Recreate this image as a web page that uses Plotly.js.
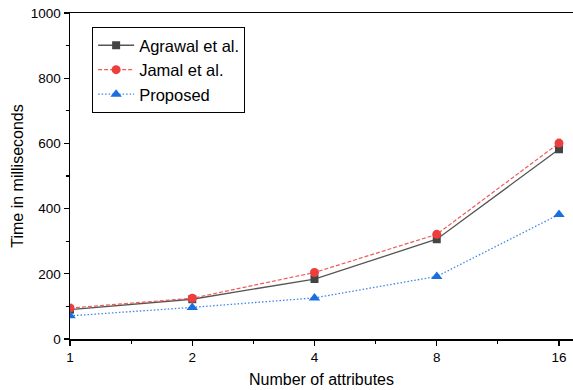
<!DOCTYPE html>
<html>
<head>
<meta charset="utf-8">
<script src="https://cdn.plot.ly/plotly-3.0.1.min.js"></script>
<style>html,body{margin:0;padding:0;background:#fff;}#chart{width:573px;height:390px;}</style>
</head>
<body>
<div id="chart"></div>
<script>
const attributes = [1, 2, 4, 8, 16];
const agrawal = [90, 122, 184, 306, 582];
const jamal = [95, 125, 204, 321, 601];
const proposed = [71, 97, 126, 192, 382];
const xTickLabels = ['1', '2', '4', '8', '16'];
const xMinorTicks = [1.4142, 2.8284, 5.6569, 11.3137];

const traces = [
  {x: attributes, y: agrawal, name: 'Agrawal et al.', mode: 'lines+markers', type: 'scatter',
   line: {color: '#555555', width: 1.3, dash: 'solid'},
   marker: {symbol: 'square', size: 8, color: '#444444'}},
  {x: attributes, y: jamal, name: 'Jamal et al.', mode: 'lines+markers', type: 'scatter',
   line: {color: '#f05a5a', width: 1.2, dash: '4px,2px'},
   marker: {symbol: 'circle', size: 9, color: '#ee3d3d'}},
  {x: attributes, y: proposed, name: 'Proposed', mode: 'lines+markers', type: 'scatter',
   line: {color: '#3d86ea', width: 1.3, dash: '1.5px,2px'},
   marker: {symbol: 'triangle-up', size: 10, color: '#1a6fe0'}}
];

const layout = {
  width: 573, height: 390,
  margin: {l: 70, r: 0, t: 13, b: 51},
  paper_bgcolor: '#fff', plot_bgcolor: '#fff',
  font: {family: 'Liberation Sans, Arial, sans-serif', color: '#000'},
  showlegend: true,
  legend: {x: 0.044, y: 0.957, xanchor: 'left', yanchor: 'top',
    bordercolor: '#000', borderwidth: 1, bgcolor: '#fff',
    font: {size: 16.5, family: 'Liberation Sans, Arial, sans-serif'},
    tracegroupgap: 0, itemwidth: 36},
  xaxis: {
    type: 'log', range: [0, 1.2386],
    tickmode: 'array', tickvals: attributes, ticktext: xTickLabels,
    ticks: 'outside', ticklen: 5, tickwidth: 1.2, tickcolor: '#000',
    showline: true, linecolor: '#000', linewidth: 1.5, mirror: true,
    showgrid: false, zeroline: false,
    tickfont: {size: 13.5},
    minor: {tickmode: 'array', tickvals: xMinorTicks, ticks: 'outside', ticklen: 3, tickwidth: 1.2, tickcolor: '#000', showgrid: false},
    title: {text: 'Number of attributes', font: {size: 16}, standoff: 10}
  },
  yaxis: {
    range: [0, 1000], tickmode: 'linear', tick0: 0, dtick: 200,
    ticks: 'outside', ticklen: 5, tickwidth: 1.2, tickcolor: '#000',
    showline: true, linecolor: '#000', linewidth: 1.5,
    showgrid: false, zeroline: false,
    tickfont: {size: 13.5},
    minor: {dtick: 100, tick0: 0, ticks: 'outside', ticklen: 3, tickwidth: 1.2, tickcolor: '#000', showgrid: false},
    title: {text: 'Time in milliseconds', font: {size: 16}, standoff: 3}
  }
};

Plotly.newPlot('chart', traces, layout, {displayModeBar: false, staticPlot: true});
</script>
</body>
</html>
